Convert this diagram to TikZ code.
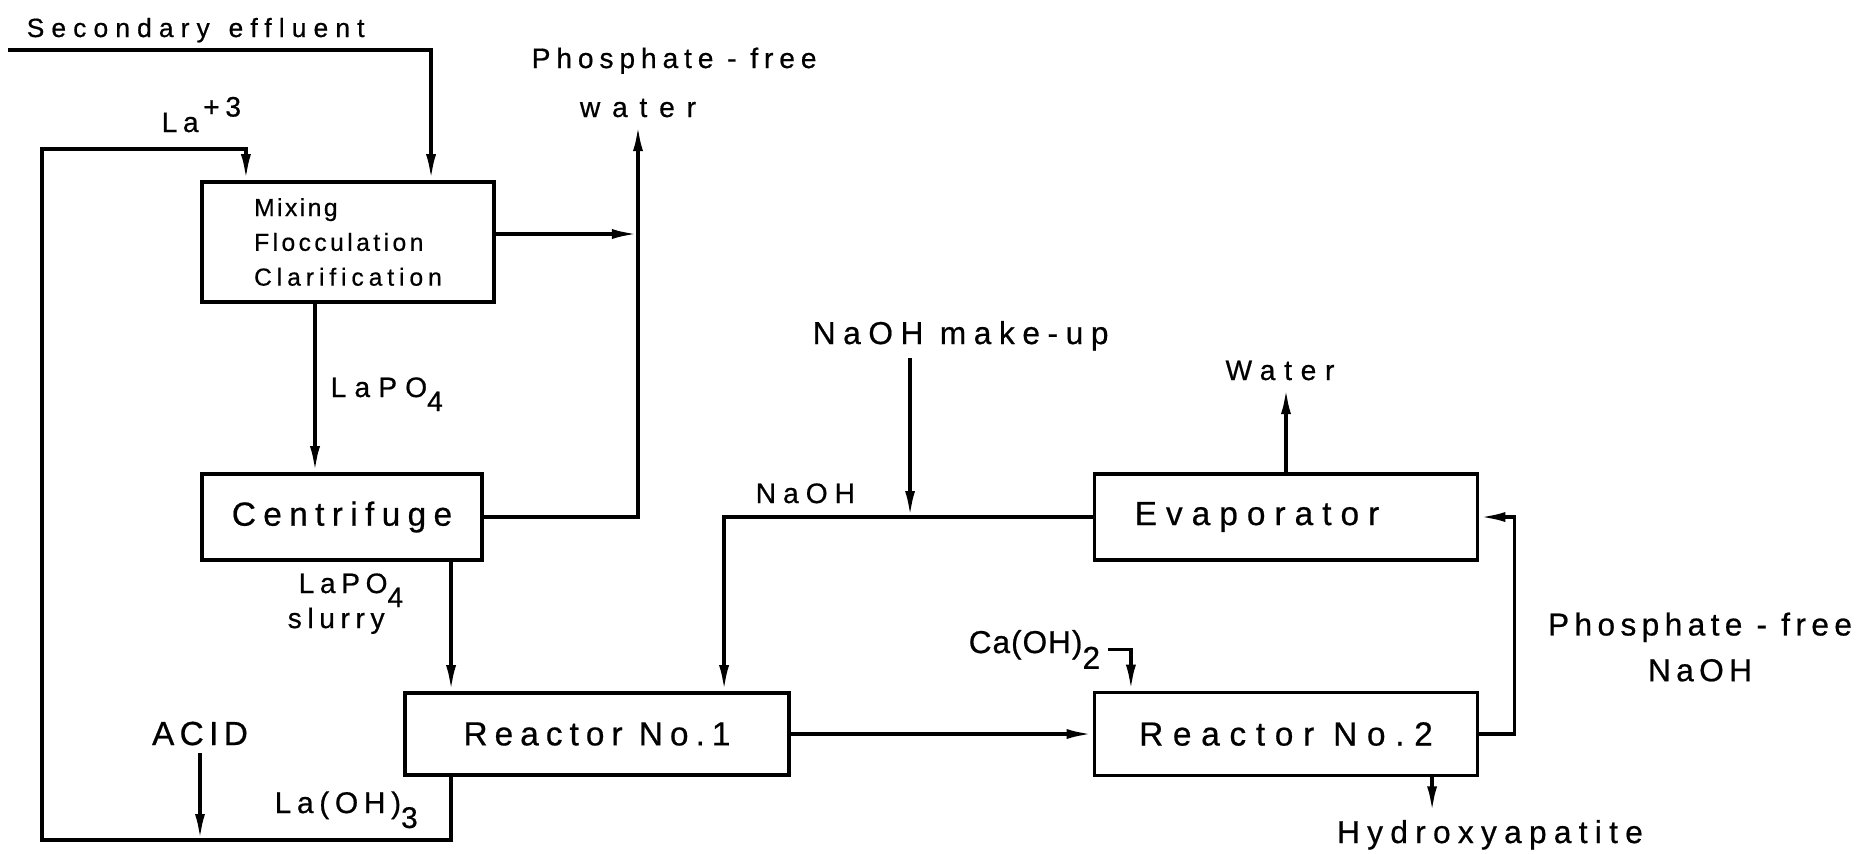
\documentclass[tikz,border=0pt]{standalone}
\usepackage{fontspec}
\setmainfont[FakeBold=0.6]{Liberation Sans}
\usetikzlibrary{arrows.meta}
\newcommand{\trk}[1]{\addfontfeature{LetterSpace=#1}}
\newcommand{\lowsub}[1]{\raisebox{-0.5em}{#1}}

\begin{document}
\begin{tikzpicture}[x=0.01cm, y=-0.01cm,
  unit/.style={draw, line width=1pt, font=\fontsize{9.5}{12}\selectfont},
  lbl/.style={inner sep=2pt, font=\fontsize{9}{13}\selectfont},
  flow/.style={line width=1pt, -{Latex[length=2.6mm, width=1mm]}}]
  \useasboundingbox (0,0) rectangle (1866,853);

  % process units
  \node[unit, minimum width=2.92cm, minimum height=1.2cm, align=left,
        font=\fontsize{7}{9.9}\selectfont] (mix) at (348,242)
    {\trk{10}Mixing\\\trk{14}Flocculation\\\trk{20}Clarification};
  \node[unit, minimum width=2.8cm, minimum height=0.86cm] (cent) at (342,517) {\trk{22}Centrifuge};
  \node[unit, minimum width=3.84cm, minimum height=0.82cm] (r1) at (597,734) {\trk{21}Reactor No.1};
  \node[unit, minimum width=3.83cm, minimum height=0.86cm] (evap) at (1286,517) {\hspace*{-0.58cm}\trk{27}Evaporator};
  \node[unit, minimum width=3.83cm, minimum height=0.83cm] (r2) at (1286,734) {\trk{29}Reactor No.2};

  % stream labels
  \node[lbl, anchor=base west, font=\fontsize{7.5}{9}\selectfont\trk{27}] (sec) at (19,37) {Secondary\, effluent};
  \node[lbl, anchor=base west, font=\fontsize{8}{10}\selectfont\trk{20}] (la3) at (154,132) {La\,\raisebox{0.55em}{+3}};
  \node[lbl, anchor=base west, font=\fontsize{8}{10}\selectfont\trk{21}] (pfree) at (524,68) {Phosphate - free};
  \node[lbl, anchor=base, font=\fontsize{8}{10}\selectfont\trk{42}] (water1) at (638,117) {water};
  \node[lbl, anchor=base west, font=\fontsize{8}{10}\selectfont\trk{29}] (lapo) at (323,397) {LaPO\lowsub{4}};
  \node[lbl, anchor=base west, font=\fontsize{8}{10}\selectfont\trk{20}] (slurry1) at (291,593) {LaPO\lowsub{4}};
  \node[lbl, anchor=base west, font=\fontsize{8}{10}\selectfont\trk{20}] (slurry2) at (280,628) {slurry};
  \node[lbl, anchor=base, font=\fontsize{9.5}{12}\selectfont\trk{16}] (acid) at (200,745) {ACID};
  \node[lbl, anchor=base west, font=\fontsize{8.5}{10}\selectfont\trk{19}] (laoh) at (267,813) {La(OH)\lowsub{3}};
  \node[lbl, anchor=base west, font=\fontsize{8}{10}\selectfont\trk{25}] (naoh) at (748,503) {NaOH};
  \node[lbl, anchor=base west, font=\fontsize{9}{11}\selectfont\trk{24}] (makeup) at (805,344) {NaOH make-up};
  \node[lbl, anchor=base, font=\fontsize{8}{10}\selectfont\trk{31}] (water2) at (1280,380) {Water};
  \node[lbl, anchor=base west, font=\fontsize{9}{11}\selectfont\trk{3}] (caoh) at (961,653) {Ca(OH)\lowsub{2}};
  \node[lbl, align=center, font=\fontsize{9}{13}\selectfont\trk{17}] (pfnaoh) at (1700,647) {Phosphate - free\\NaOH};
  \node[lbl, anchor=base, font=\fontsize{9}{11}\selectfont\trk{23}] (hyd) at (1490,843) {Hydroxyapatite};

  % corners of the lanthanum loop
  \coordinate (effl) at (8,50);
  \coordinate (bl) at (42,840);
  \coordinate (tl) at (42,149);
  \coordinate (mixout) at ([yshift=0.08cm]mix.east);
  \coordinate (mkin) at ([xshift=1.05cm]makeup.south west);

  % lanthanum side
  \draw[flow] (effl) -| ([xshift=0.83cm]mix.north);
  \draw[flow] ([xshift=-1.46cm]r1.south) |- (bl) -- (tl) -| ([xshift=-1.02cm]mix.north);
  \draw[flow] (acid.south) -- (acid.south |- bl);
  \draw[flow] (mixout) -- (mixout -| water1.south);
  \draw[flow] (cent.east) -| (water1.south);
  \draw[flow] ([xshift=-0.33cm]mix.south) -- ([xshift=-0.33cm]mix.south |- cent.north);
  \draw[flow] ([xshift=1.09cm]cent.south) -- ([xshift=1.09cm]cent.south |- r1.north);

  % caustic side
  \draw[flow] (r1.east) -- (r2.west);
  \draw[flow] (evap.west) -| ([xshift=1.27cm]r1.north);
  \draw[flow] (mkin) -- (mkin |- evap.west);
  \draw[flow] (evap.north) -- (evap.north |- water2.south);
  \draw[flow] (r2.east) -| ([xshift=0.35cm]evap.east) -- (evap.east);
  \draw[flow] (caoh.east) -| ([xshift=-1.55cm]r2.north);
  \draw[flow] ([xshift=1.46cm]r2.south) -- ([xshift=1.46cm]r2.south |- hyd.north);
\end{tikzpicture}
\end{document}
